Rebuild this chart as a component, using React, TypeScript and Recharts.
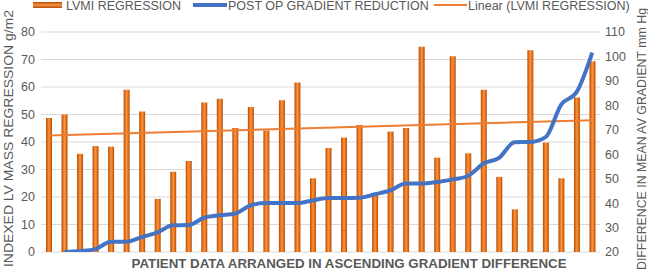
import React from "react";
import { ComposedChart, Bar, Line, XAxis, YAxis, CartesianGrid } from "recharts";

const patients = Array.from({ length: 36 }, (_, i) => `P${i + 1}`);
const lvmiRegression = [
  48.7, 50, 35.7, 38.5, 38.3, 59, 51.1, 19.3, 29.2, 33.1, 54.4, 55.7,
  45.1, 52.7, 44.2, 55.2, 61.6, 26.8, 37.8, 41.6, 46.2, 21.3, 43.8, 45.1,
  74.6, 34.3, 71.2, 35.9, 59, 27.3, 15.5, 73.4, 39.8, 26.8, 56.2, 69.4,
];
const gradientReduction: (number | null)[] = [
  null, 20, 20.4, 21.2, 24.2, 24.2, 26.1, 28, 30.9, 31, 34, 35,
  35.7, 39.1, 40, 40, 40, 41.1, 42.1, 42.1, 42.2, 43.6, 45.2, 48,
  48, 48.6, 49.7, 51.1, 56.2, 58.5, 64.9, 65, 67, 80.3, 85.5, 101.6,
];
const trendStart = 42.4;
const trendEnd = 47.9;
const leftTicks = [0, 10, 20, 30, 40, 50, 60, 70, 80];
const rightTicks = [20, 30, 40, 50, 60, 70, 80, 90, 100, 110];

const data = patients.map((p, i) => ({
  name: p,
  lvmi: lvmiRegression[i],
  grad: gradientReduction[i],
  trend: i === 0 ? trendStart : i === patients.length - 1 ? trendEnd : null,
}));

const FONT = "'Liberation Sans', Arial, Helvetica, sans-serif";
const GRAY = "#595959";

export default function App() {
  return (
    <div style={{ position: "absolute", left: 0, top: 0, width: 648, height: 273, background: "#fff" }}>
      <ComposedChart
        width={648}
        height={273}
        data={data}
        margin={{ top: 32, right: 0, bottom: 21, left: 0 }}
        barCategoryGap={0}
      >
        <defs>
          <linearGradient id="barGrad" x1="0" y1="0" x2="1" y2="0">
            <stop offset="0" stopColor="#b04e08" />
            <stop offset="0.3" stopColor="#ec761c" />
            <stop offset="0.5" stopColor="#f99440" />
            <stop offset="0.7" stopColor="#ec761c" />
            <stop offset="1" stopColor="#b04e08" />
          </linearGradient>
        </defs>
        <CartesianGrid horizontal vertical={false} stroke="#d9d9d9" yAxisId="left" />
        <XAxis dataKey="name" hide />
        <YAxis
          yAxisId="left"
          orientation="left"
          width={41}
          domain={[0, 80]}
          ticks={leftTicks}
          axisLine={false}
          tickLine={false}
          tickSize={0}
          tickMargin={6}
          tick={{ fontSize: 12.5, fill: GRAY, fontFamily: FONT }}
        />
        <YAxis
          yAxisId="right"
          orientation="right"
          width={48}
          domain={[20, 110]}
          ticks={rightTicks}
          allowDataOverflow
          axisLine={false}
          tickLine={false}
          tickSize={0}
          tickMargin={5}
          tick={{ fontSize: 12.5, fill: GRAY, fontFamily: FONT }}
        />
        <Bar yAxisId="left" dataKey="lvmi" barSize={6} fill="url(#barGrad)" isAnimationActive={false} />
        <Line
          yAxisId="left"
          dataKey="trend"
          type="linear"
          connectNulls
          stroke="#ed7d31"
          strokeWidth={2}
          dot={false}
          isAnimationActive={false}
        />
        <Line
          yAxisId="right"
          dataKey="grad"
          type="monotone"
          stroke="#4472c4"
          strokeWidth={4}
          dot={false}
          isAnimationActive={false}
        />
      </ComposedChart>
      <svg
        width={648}
        height={273}
        style={{ position: "absolute", left: 0, top: 0, pointerEvents: "none" }}
        fontFamily={FONT}
      >
        <defs>
          <linearGradient id="legGrad" x1="0" y1="0" x2="0" y2="1">
            <stop offset="0" stopColor="#b04e08" />
            <stop offset="0.5" stopColor="#f99440" />
            <stop offset="1" stopColor="#b04e08" />
          </linearGradient>
        </defs>
        <rect x={33} y={2} width={29} height={6} fill="url(#legGrad)" />
        <text x={66} y={9.5} fontSize={12.5} fill={GRAY}>LVMI REGRESSION</text>
        <line x1={193} x2={227} y1={5} y2={5} stroke="#4472c4" strokeWidth={4} />
        <text x={228} y={9.5} fontSize={12.5} fill={GRAY}>POST OP GRADIENT REDUCTION</text>
        <line x1={434} x2={467} y1={5} y2={5} stroke="#ed7d31" strokeWidth={2} />
        <text x={468} y={9.5} fontSize={12.5} fill={GRAY}>Linear (LVMI REGRESSION)</text>
        <text
          x={349}
          y={268}
          fontSize={12.5}
          fontWeight="bold"
          fill={GRAY}
          textAnchor="middle"
          textLength={435}
          lengthAdjust="spacingAndGlyphs"
        >
          PATIENT DATA ARRANGED IN ASCENDING GRADIENT DIFFERENCE
        </text>
        <text
          transform="translate(12.5,138.5) rotate(-90)"
          fontSize={13}
          fill={GRAY}
          textAnchor="middle"
          textLength={257}
          lengthAdjust="spacingAndGlyphs"
        >
          INDEXED LV MASS REGRESSION g/m2
        </text>
        <text
          transform="translate(646,139) rotate(-90)"
          fontSize={12.5}
          fill={GRAY}
          textAnchor="middle"
          textLength={262}
          lengthAdjust="spacingAndGlyphs"
        >
          DIFFERENCE IN MEAN AV GRADIENT mm Hg
        </text>
      </svg>
    </div>
  );
}
